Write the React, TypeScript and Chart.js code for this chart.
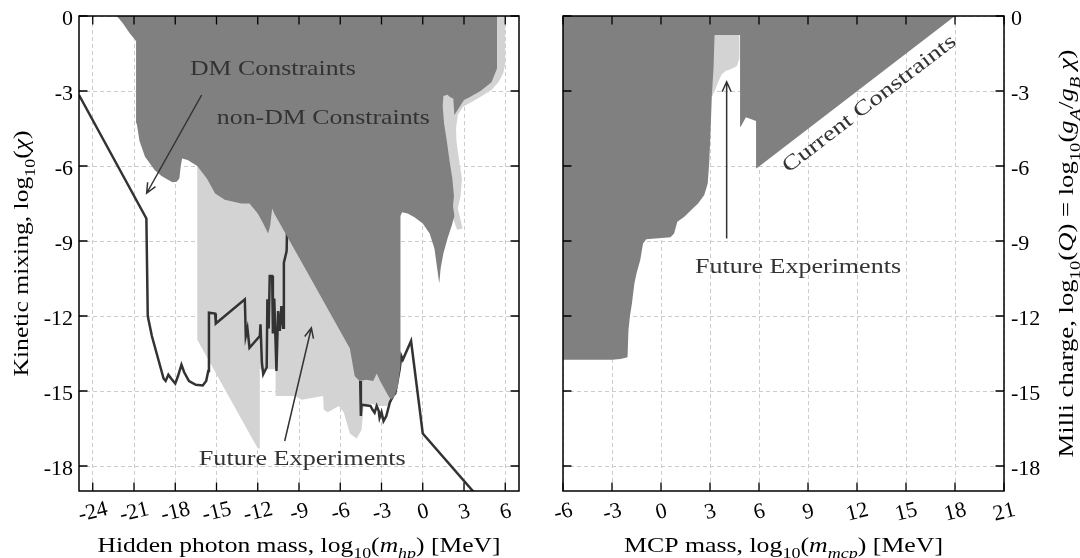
import React, { useEffect, useRef } from "react";
import { Chart, registerables } from "chart.js";
Chart.register(...registerables);

// ---------- tick values ----------
const hpXTicks = [-24, -21, -18, -15, -12, -9, -6, -3, 0, 3, 6];
const mcpXTicks = [-6, -3, 0, 3, 6, 9, 12, 15, 18, 21];
const yTicks = [-18, -15, -12, -9, -6, -3, 0];

// ---------- left panel: hidden photon ----------
const hpConstraints: number[][] = [
  [-22.25, 0], [5.4, 0], [5.4, -2.1], [5.0, -2.65], [4.2, -3.0], [3.4, -3.25], [3.0, -3.36], [2.6, -3.7],
  [2.3, -3.96], [2.22, -3.3], [2.0, -3.25], [1.8, -3.15], [1.5, -3.2], [1.45, -3.6], [1.55, -4.3], [1.75, -5.0],
  [1.95, -5.8], [2.15, -6.5], [2.27, -7.2], [2.2, -7.6], [2.3, -8.0], [2.1, -8.4], [1.8, -8.9], [1.5, -9.5],
  [1.3, -10.1], [1.2, -10.7], [1.05, -10.1], [0.85, -9.3], [0.5, -8.7], [0.0, -8.3], [-0.6, -8.05], [-1.1, -7.9],
  [-1.5, -7.85], [-1.62, -8.0], [-1.62, -14.0], [-1.8, -14.8], [-2.05, -15.2], [-2.3, -15.35], [-2.5, -15.2],
  [-2.8, -14.9], [-3.1, -14.6], [-3.35, -14.3], [-3.6, -14.6], [-4.1, -14.55], [-4.6, -14.6], [-4.95, -14.4],
  [-5.3, -13.3], [-8.5, -10.15], [-10.8, -7.9], [-10.95, -7.7], [-11.1, -8.4], [-11.25, -8.7], [-11.6, -8.3],
  [-12.0, -7.9], [-12.6, -7.5], [-13.2, -7.5], [-14.4, -7.35], [-15.1, -7.1], [-15.7, -6.5], [-16.4, -6.0],
  [-17.1, -5.76], [-17.5, -5.7], [-17.6, -6.0], [-17.7, -6.5], [-17.9, -6.63], [-18.2, -6.65], [-18.5, -6.56],
  [-19.0, -6.4], [-19.5, -6.16], [-20.2, -5.63], [-20.6, -5.0], [-20.8, -4.3], [-20.85, -1.0], [-21.3, -0.7],
  [-21.8, -0.3], [-22.25, 0],
];
const hpFutureMain: number[][] = [
  [-16.4, -5.6], [-16.4, -12.95], [-12.0, -17.3], [-11.85, -17.3], [-11.85, -14.13], [-10.7, -14.13],
  [-10.7, -15.2], [-9.3, -15.2], [-8.8, -15.35], [-7.25, -15.2], [-7.2, -15.75], [-6.9, -15.85], [-6.1, -15.6],
  [-5.75, -15.85], [-5.3, -16.7], [-4.8, -16.9], [-4.45, -16.55], [-4.3, -15.6], [-3.8, -15.5], [-3.2, -15.6],
  [-2.6, -15.6], [-2.1, -15.3], [-1.8, -14.6], [-1.7, -12], [-3, -10], [-10, -6], [-16.4, -5.6],
];
const hpFutureRight: number[][] = [
  [5.3, 0.2], [6.0, 0.2], [6.0, -1.9], [5.85, -2.3], [5.5, -2.65], [5.0, -2.96], [4.0, -3.3], [2.93, -3.63],
  [2.55, -3.95], [2.42, -4.5], [2.45, -5.0], [2.65, -5.8], [2.85, -6.5], [2.75, -7.2], [2.55, -7.7], [2.9, -8.5],
  [2.5, -8.55], [2.2, -8.1], [1.0, -7.6], [1.0, -3.0], [4.5, -2.3], [5.3, -1.5], [5.3, 0.2],
];
const hpDMLine: (number | null)[][] = [
  [-25, -3.16], [-20.1, -8.1], [-20.0, -12.0], [-19.7, -12.8], [-19.35, -13.5], [-19.1, -14.0], [-18.85, -14.5],
  [-18.7, -14.6], [-18.5, -14.35], [-18.3, -14.5], [-18.0, -14.7], [-17.8, -14.4], [-17.55, -13.95],
  [-17.35, -14.25], [-17.0, -14.6], [-16.5, -14.75], [-16.0, -14.78], [-15.75, -14.6], [-15.6, -14.2],
  [-15.55, -11.87], [-15.1, -11.9], [-15.05, -12.3], [-12.94, -11.33], [-12.87, -12.8], [-12.75, -12.5],
  [-12.6, -13.27], [-11.85, -12.8], [-11.8, -12.33], [-11.7, -13.87], [-11.6, -14.33], [-11.35, -14.05],
  [-11.3, -11.33], [-11.2, -12.5], [-11.13, -10.4], [-10.95, -10.4], [-10.9, -12.7], [-10.8, -11.3],
  [-10.64, -14.2], [-10.52, -11.8], [-10.4, -12.6], [-10.28, -11.6], [-10.16, -12.47], [-10.1, -9.87],
  [-9.9, -9.4], [-9.87, -8.6], [-7, null], [-4.55, -14.6], [-4.5, -16.0], [-4.45, -15.55], [-3.8, -15.6],
  [-3.65, -15.75], [-3.5, -15.87], [-3.35, -15.6], [-3.2, -15.8], [-3.14, -16.07], [-3.0, -15.85],
  [-2.85, -16.2], [-2.65, -16.0], [-2.4, -15.47], [-2.17, -15.2], [-2.0, -15.1], [-1.68, -14.13],
  [-1.56, -13.6], [-1.45, -13.75], [-0.85, -13.0], [0.0, -16.7], [3.8, -19.1],
];

// ---------- right panel: milli-charged particles ----------
const mcpConstraints: number[][] = [
  [-6, 0], [18, 0], [5.86, -6.09], [5.82, -4.2], [5.2, -4.05], [4.88, -4.43], [4.84, -0.76], [3.28, -0.76],
  [3.22, -2.03], [3.11, -3.23], [3.03, -4.7], [2.95, -5.9], [2.86, -6.7], [2.65, -7.16], [2.27, -7.5],
  [1.85, -7.76], [1.43, -8.03], [1.0, -8.23], [0.8, -8.7], [0.58, -8.85], [-0.9, -8.93], [-1.1, -9.1],
  [-1.27, -9.76], [-1.5, -10.3], [-1.63, -10.7], [-1.78, -11.5], [-1.9, -12.0], [-1.99, -12.55],
  [-2.05, -13.65], [-2.48, -13.72], [-3.0, -13.75], [-6, -13.75], [-6, 0],
];
const mcpFuture: number[][] = [
  [3.0, -0.5], [4.8, -0.5], [4.8, -1.7], [4.65, -2.0], [4.3, -2.12], [3.96, -2.2], [3.7, -2.35], [3.5, -2.65],
  [3.35, -2.9], [3.15, -3.2], [3.0, -3.2], [3.0, -0.5],
];

// ---------- text ----------
type Seg = { t: string; sub?: boolean; it?: boolean };
const hpXTitle: Seg[] = [{ t: "Hidden photon mass, log" }, { t: "10", sub: true }, { t: "(" }, { t: "m", it: true }, { t: "hp", it: true, sub: true }, { t: ") [MeV]" }];
const hpYTitle: Seg[] = [{ t: "Kinetic mixing, log" }, { t: "10", sub: true }, { t: "(" }, { t: "χ", it: true }, { t: ")" }];
const mcpXTitle: Seg[] = [{ t: "MCP mass, log" }, { t: "10", sub: true }, { t: "(" }, { t: "m", it: true }, { t: "mcp", it: true, sub: true }, { t: ") [MeV]" }];
const mcpYTitle: Seg[] = [
  { t: "Milli charge, log" }, { t: "10", sub: true }, { t: "(" }, { t: "Q", it: true }, { t: ") = log" }, { t: "10", sub: true },
  { t: "(" }, { t: "g", it: true }, { t: "A", it: true, sub: true }, { t: "/" }, { t: "g", it: true }, { t: "B", it: true, sub: true },
  { t: " " }, { t: "χ", it: true }, { t: ")" },
];

type Note = { text: string; x: number; y: number; width: number; rot?: number };
type Arrow = { from: number[]; to: number[] };
const hpNotes: Note[] = [
  { text: "DM Constraints", x: -10.9, y: -2.34, width: 166 },
  { text: "non-DM Constraints", x: -7.23, y: -4.32, width: 213 },
  { text: "Future Experiments", x: -8.76, y: -17.96, width: 207 },
];
const hpArrows: Arrow[] = [
  { from: [-16.08, -3.16], to: [-20.08, -7.09] },
  { from: [-10.04, -17.0], to: [-8.1, -12.47] },
];
const mcpNotes: Note[] = [
  { text: "Future Experiments", x: 8.39, y: -10.28, width: 206 },
  { text: "Current Constraints", x: 12.71, y: -3.48, width: 213, rot: -37.5 },
];
const mcpArrows: Arrow[] = [{ from: [4.02, -8.9], to: [4.02, -2.63] }];

const SERIF = '"Liberation Serif", "Times New Roman", Times, serif';
const DARK = "#808080";
const LIGHT = "#d3d3d3";
const LINE = "#333333";

function segFont(s: Seg, size: number) {
  const sz = s.sub ? size * 0.7 : size;
  return `${s.it ? "italic " : ""}${sz}px ${SERIF}`;
}

function drawRich(ctx: CanvasRenderingContext2D, segs: Seg[], x: number, y: number, size: number,
  o: { align?: "left" | "center" | "right"; rot?: number; width?: number; color?: string; middle?: boolean }) {
  ctx.save();
  let W = 0;
  const ws = segs.map((s) => { ctx.font = segFont(s, size); const w = ctx.measureText(s.t).width; W += w; return w; });
  const sx = o.width ? o.width / W : 1;
  ctx.translate(x, y);
  if (o.rot) ctx.rotate(o.rot);
  ctx.scale(sx, 1);
  ctx.fillStyle = o.color || "#000";
  ctx.textBaseline = "alphabetic";
  ctx.textAlign = "left";
  let cx = o.align === "left" ? 0 : o.align === "right" ? -W : -W / 2;
  const dy = o.middle ? size * 0.33 : 0;
  segs.forEach((s, i) => {
    ctx.font = segFont(s, size);
    ctx.fillText(s.t, cx, dy + (s.sub ? size * 0.3 : 0));
    cx += ws[i];
  });
  ctx.restore();
}

function drawArrow(ctx: CanvasRenderingContext2D, x1: number, y1: number, x2: number, y2: number) {
  const a = Math.atan2(y2 - y1, x2 - x1);
  const L = 11, sp = 0.42;
  ctx.beginPath();
  ctx.moveTo(x1, y1); ctx.lineTo(x2, y2);
  ctx.moveTo(x2 - L * Math.cos(a - sp), y2 - L * Math.sin(a - sp));
  ctx.lineTo(x2, y2);
  ctx.lineTo(x2 - L * Math.cos(a + sp), y2 - L * Math.sin(a + sp));
  ctx.stroke();
}

const pts = (a: (number | null)[][]) => a.map(([x, y]) => ({ x: x as number, y }));

type Spec = {
  xmin: number; xmax: number; xTicks: number[]; side: "left" | "right";
  padding: { left: number; right: number; top: number; bottom: number };
  xTitle: Seg[]; yTitle: Seg[]; yTitleWidth: number; xTitleWidth: number;
  notes: Note[]; arrows: Arrow[];
  datasets: any[];
};

function overlay(spec: Spec) {
  return {
    id: "overlay",
    afterDraw(chart: any) {
      const { ctx, chartArea: a, scales } = chart;
      const xs = scales.x, ys = scales.y;
      ctx.save();
      ctx.strokeStyle = "#000";
      ctx.lineWidth = 1.5;
      ctx.strokeRect(a.left, a.top, a.right - a.left, a.bottom - a.top);
      ctx.lineWidth = 1.3;
      ctx.beginPath();
      const T = 8.5;
      for (const v of spec.xTicks) {
        const p = xs.getPixelForValue(v);
        ctx.moveTo(p, a.bottom); ctx.lineTo(p, a.bottom - T);
        ctx.moveTo(p, a.top); ctx.lineTo(p, a.top + T);
      }
      for (const v of yTicks) {
        const p = ys.getPixelForValue(v);
        ctx.moveTo(a.left, p); ctx.lineTo(a.left + T, p);
        ctx.moveTo(a.right, p); ctx.lineTo(a.right - T, p);
      }
      ctx.stroke();
      for (const v of spec.xTicks) {
        drawRich(ctx, [{ t: String(v) }], xs.getPixelForValue(v), a.bottom + 20, 22, { rot: (-14 * Math.PI) / 180, middle: true });
      }
      for (const v of yTicks) {
        const p = ys.getPixelForValue(v) + 2;
        if (spec.side === "left") drawRich(ctx, [{ t: String(v) }], a.left - 6, p, 22, { align: "right", middle: true });
        else drawRich(ctx, [{ t: String(v) }], a.right + 7, p, 22, { align: "left", middle: true });
      }
      const cxm = (a.left + a.right) / 2, cym = (a.top + a.bottom) / 2;
      drawRich(ctx, spec.xTitle, cxm, a.bottom + 60.5, 22, { width: spec.xTitleWidth });
      if (spec.side === "left") drawRich(ctx, spec.yTitle, a.left - 51, cym, 22, { rot: -Math.PI / 2, width: spec.yTitleWidth });
      else drawRich(ctx, spec.yTitle, a.right + 69, cym, 22, { rot: -Math.PI / 2, width: spec.yTitleWidth });
      ctx.strokeStyle = LINE;
      ctx.lineWidth = 1.5;
      for (const ar of spec.arrows) {
        drawArrow(ctx, xs.getPixelForValue(ar.from[0]), ys.getPixelForValue(ar.from[1]),
          xs.getPixelForValue(ar.to[0]), ys.getPixelForValue(ar.to[1]));
      }
      for (const n of spec.notes) {
        const px = xs.getPixelForValue(n.x), py = ys.getPixelForValue(n.y);
        if (n.rot) drawRich(ctx, [{ t: n.text }], px, py, 21, { rot: (n.rot * Math.PI) / 180, width: n.width, color: LINE, middle: true });
        else drawRich(ctx, [{ t: n.text }], px, py, 21, { width: n.width, color: LINE });
      }
      ctx.restore();
    },
  };
}

function makeConfig(spec: Spec): any {
  const grid = { color: "#cccccc", lineWidth: 1, drawTicks: false };
  const border = { display: false, dash: [4, 3] };
  return {
    type: "line",
    data: { datasets: spec.datasets },
    options: {
      responsive: false,
      animation: false,
      events: [],
      layout: { padding: spec.padding },
      elements: { point: { radius: 0 }, line: { tension: 0 } },
      plugins: { legend: { display: false }, tooltip: { enabled: false } },
      scales: {
        x: {
          type: "linear", min: spec.xmin, max: spec.xmax,
          afterBuildTicks: (s: any) => { s.ticks = spec.xTicks.map((v) => ({ value: v })); },
          afterFit: (s: any) => { s.height = 0; },
          ticks: { display: false }, grid, border,
        },
        y: {
          type: "linear", min: -19, max: 0, position: spec.side,
          afterBuildTicks: (s: any) => { s.ticks = yTicks.map((v) => ({ value: v })); },
          afterFit: (s: any) => { s.width = 0; },
          ticks: { display: false }, grid, border,
        },
      },
    },
    plugins: [overlay(spec)],
  };
}

const poly = (data: number[][], color: string) => ({
  data: pts(data), borderWidth: 0, borderColor: color, backgroundColor: color, fill: "shape", pointRadius: 0,
});

const leftSpec: Spec = {
  xmin: -25, xmax: 7, xTicks: hpXTicks, side: "left",
  padding: { left: 79, right: 21, top: 16, bottom: 67 },
  xTitle: hpXTitle, yTitle: hpYTitle, xTitleWidth: 403, yTitleWidth: 246,
  notes: hpNotes, arrows: hpArrows,
  datasets: [
    poly(hpConstraints, DARK),
    { data: pts(hpDMLine), borderColor: LINE, borderWidth: 2.5, fill: false, pointRadius: 0, spanGaps: false },
    poly(hpFutureMain, LIGHT),
    poly(hpFutureRight, LIGHT),
  ],
};

const rightSpec: Spec = {
  xmin: -6, xmax: 21, xTicks: mcpXTicks, side: "right",
  padding: { left: 23, right: 76, top: 16, bottom: 67 },
  xTitle: mcpXTitle, yTitle: mcpYTitle, xTitleWidth: 319, yTitleWidth: 408,
  notes: mcpNotes, arrows: mcpArrows,
  datasets: [poly(mcpConstraints, DARK), poly(mcpFuture, LIGHT)],
};

function Panel({ spec, left }: { spec: Spec; left: number }) {
  const ref = useRef<HTMLCanvasElement>(null);
  useEffect(() => {
    const chart = new Chart(ref.current as HTMLCanvasElement, makeConfig(spec));
    let alive = true;
    const fonts = (document as any).fonts;
    if (fonts && fonts.load) {
      Promise.all([
        fonts.load('22px "Liberation Serif"'),
        fonts.load('italic 22px "Liberation Serif"'),
      ]).then(() => { if (alive) chart.draw(); }).catch(() => {});
    }
    return () => { alive = false; chart.destroy(); };
  }, []);
  return (
    <canvas ref={ref} width={540} height={558}
      style={{ position: "absolute", left, top: 0, width: 540, height: 558, display: "block" }} />
  );
}

export default function App() {
  return (
    <div style={{ position: "fixed", left: 0, top: 0, width: 1080, height: 558, background: "#fff", overflow: "hidden", fontFamily: SERIF }}>
      <Panel spec={leftSpec} left={0} />
      <Panel spec={rightSpec} left={540} />
    </div>
  );
}
